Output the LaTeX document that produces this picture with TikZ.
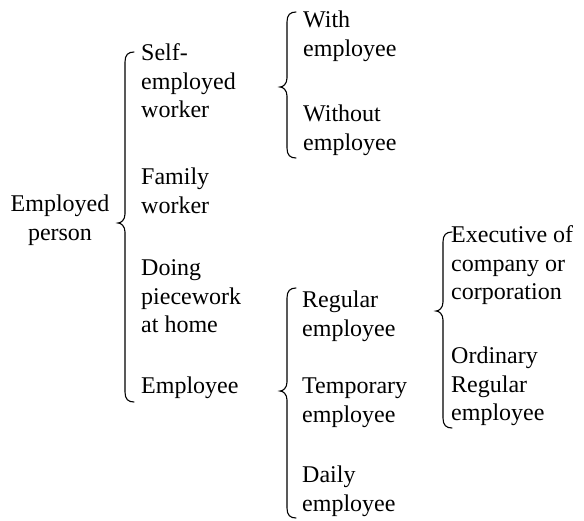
\documentclass[tikz,border=0pt]{standalone}
\usepackage{fontspec}
\setmainfont{Liberation Serif}
\tikzset{
  lbl/.style={inner sep=0pt, anchor=north west, align=left, font=\fontsize{24}{28.8}\selectfont},
  clbl/.style={lbl, anchor=north, align=center},
  bracestyle/.style={line width=1.1pt, line cap=round}
}
\newcommand\mybrace[4]{%
  \draw[bracestyle] ({#1+9},#2) .. controls ({#1+3},#2) and (#1,{#2+3}) .. (#1,{#2+10})
    -- (#1,{#3-9}) .. controls (#1,{#3-3}) and ({#1-4},#3) .. ({#1-7},#3)
    .. controls ({#1-4},#3) and (#1,{#3+3}) .. (#1,{#3+9})
    -- (#1,{#4-10}) .. controls (#1,{#4-3}) and ({#1+3},#4) .. ({#1+9},#4);}
\begin{document}
\begin{tikzpicture}[x=1pt,y=-1pt]
\useasboundingbox (0,0) rectangle (584,520);
% column 1
\node[clbl] (emp) at (60,191) {\strut Employed\\person};
% column 2
\node[lbl] (self) at (141,40) {\strut Self-\\employed\\worker};
\node[lbl] (fam) at (141,164) {\strut Family\\worker};
\node[lbl] (doing) at (141,255) {\strut Doing\\piecework\\at home};
\node[lbl] (employee) at (141,373) {\strut Employee};
% column 3 top
\node[lbl] (with) at (303,7) {\strut With\\employee};
\node[lbl] (without) at (303,101) {\strut Without\\employee};
% column 3 bottom
\node[lbl] (regular) at (302,287) {\strut Regular\\employee};
\node[lbl] (temp) at (302,373) {\strut Temporary\\employee};
\node[lbl] (daily) at (302,462) {\strut Daily\\employee};
% column 4
\node[lbl] (exec) at (451,222) {\strut Executive of\\company or\\corporation};
\node[lbl] (ord) at (451,343) {\strut Ordinary\\Regular\\employee};
% braces
\mybrace{125}{52}{223}{402}
\mybrace{287}{12}{87}{158}
\mybrace{287}{288}{391}{518}
\mybrace{443}{232}{311}{428}
\end{tikzpicture}
\end{document}
